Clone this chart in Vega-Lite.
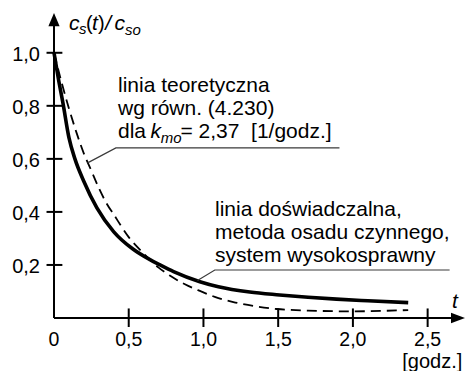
{
  "$schema": "https://vega.github.io/schema/vega-lite/v6.json",
  "autosize": {"type": "none"},
  "width": 411,
  "height": 305,
  "padding": {"left": 54, "top": 13, "right": 1, "bottom": 53},
  "background": "white",
  "config": {
    "view": {"stroke": null},
    "text": {"font": "Liberation Sans", "color": "black"}
  },
  "datasets": {
    "solid": [
      {"t": 0, "v": 1.0}, {"t": 0.03, "v": 0.9}, {"t": 0.06, "v": 0.81},
      {"t": 0.1, "v": 0.68}, {"t": 0.14, "v": 0.6}, {"t": 0.2, "v": 0.515},
      {"t": 0.287, "v": 0.415}, {"t": 0.4, "v": 0.325}, {"t": 0.528, "v": 0.26},
      {"t": 0.642, "v": 0.22}, {"t": 0.71, "v": 0.2}, {"t": 0.8, "v": 0.175},
      {"t": 0.976, "v": 0.137}, {"t": 1.1, "v": 0.118}, {"t": 1.31, "v": 0.098},
      {"t": 1.51, "v": 0.087}, {"t": 1.7, "v": 0.078}, {"t": 1.89, "v": 0.071},
      {"t": 2.1, "v": 0.065}, {"t": 2.37, "v": 0.058}
    ],
    "dashed": [
      {"t": 0, "v": 1.0}, {"t": 0.05, "v": 0.89}, {"t": 0.1, "v": 0.79},
      {"t": 0.15, "v": 0.7}, {"t": 0.2, "v": 0.62}, {"t": 0.25, "v": 0.555},
      {"t": 0.3, "v": 0.49}, {"t": 0.354, "v": 0.43}, {"t": 0.4, "v": 0.39},
      {"t": 0.5, "v": 0.305}, {"t": 0.588, "v": 0.25}, {"t": 0.7, "v": 0.19},
      {"t": 0.775, "v": 0.16}, {"t": 0.876, "v": 0.127}, {"t": 0.976, "v": 0.102},
      {"t": 1.1, "v": 0.075}, {"t": 1.2, "v": 0.06}, {"t": 1.35, "v": 0.044},
      {"t": 1.49, "v": 0.034}, {"t": 1.7, "v": 0.028}, {"t": 2.0, "v": 0.025},
      {"t": 2.2, "v": 0.027}, {"t": 2.37, "v": 0.03}
    ],
    "leaders": [
      {"id": 1, "ord": 1, "t": 0.225, "v": 0.585},
      {"id": 1, "ord": 2, "t": 0.414, "v": 0.6415},
      {"id": 1, "ord": 3, "t": 1.91, "v": 0.6415},
      {"id": 2, "ord": 1, "t": 0.96, "v": 0.141},
      {"id": 2, "ord": 2, "t": 1.076, "v": 0.181},
      {"id": 2, "ord": 3, "t": 2.647, "v": 0.181}
    ],
    "xticks": [
      {"t": 0, "label": "0"}, {"t": 0.5, "label": "0,5"}, {"t": 1.0, "label": "1,0"},
      {"t": 1.5, "label": "1,5"}, {"t": 2.0, "label": "2,0"}, {"t": 2.5, "label": "2,5"}
    ],
    "yticks": [
      {"v": 0.2, "label": "0,2"}, {"v": 0.4, "label": "0,4"}, {"v": 0.6, "label": "0,6"},
      {"v": 0.8, "label": "0,8"}, {"v": 1.0, "label": "1,0"}
    ],
    "plain": [
      {"label": "linia teoretyczna", "t": 0.428, "v": 0.853},
      {"label": "wg równ. (4.230)", "t": 0.428, "v": 0.766},
      {"label": "dla", "t": 0.428, "v": 0.679},
      {"label": "= 2,37\u00a0 [1/godz.]", "t": 0.846, "v": 0.679},
      {"label": "linia doświadczalna,", "t": 1.077, "v": 0.385},
      {"label": "metoda osadu czynnego,", "t": 1.077, "v": 0.298},
      {"label": "system wysokosprawny", "t": 1.077, "v": 0.211}
    ],
    "unit": [
      {"label": "[godz.]", "t": 2.33, "v": -0.187}
    ],
    "title": [
      {"label": "(", "t": 0.214, "v": 1.087},
      {"label": ")", "t": 0.294, "v": 1.087}
    ],
    "italic": [
      {"label": "k", "t": 0.645, "v": 0.679},
      {"label": "c", "t": 0.1, "v": 1.087},
      {"label": "t", "t": 0.254, "v": 1.087},
      {"label": "/", "t": 0.343, "v": 1.087},
      {"label": "c", "t": 0.405, "v": 1.087},
      {"label": "t", "t": 2.663, "v": 0.038}
    ],
    "subscripts": [
      {"label": "mo", "t": 0.715, "v": 0.66},
      {"label": "s", "t": 0.167, "v": 1.072},
      {"label": "so", "t": 0.475, "v": 1.068}
    ]
  },
  "layer": [
    {
      "data": {"name": "solid"},
      "mark": {"type": "line", "color": "black", "strokeWidth": 3.6, "interpolate": "monotone"},
      "encoding": {
        "x": {
          "field": "t", "type": "quantitative",
          "scale": {"domain": [0, 2.75], "nice": false, "zero": false},
          "axis": null
        },
        "y": {
          "field": "v", "type": "quantitative",
          "scale": {"domain": [0, 1.15], "nice": false, "zero": false},
          "axis": null
        }
      }
    },
    {
      "data": {"name": "dashed"},
      "mark": {"type": "line", "color": "black", "strokeWidth": 1.8, "strokeDash": [10, 6], "interpolate": "monotone"},
      "encoding": {
        "x": {"field": "t", "type": "quantitative", "axis": null},
        "y": {"field": "v", "type": "quantitative", "axis": null}
      }
    },
    {
      "data": {"name": "leaders"},
      "mark": {"type": "line", "color": "#3a3a3a", "strokeWidth": 1.2},
      "encoding": {
        "x": {"field": "t", "type": "quantitative", "axis": null},
        "y": {"field": "v", "type": "quantitative", "axis": null},
        "detail": {"field": "id", "type": "nominal"},
        "order": {"field": "ord", "type": "quantitative"}
      }
    },
    {
      "data": {"values": [{}]},
      "mark": {"type": "rule", "color": "black", "strokeWidth": 2},
      "encoding": {
        "x": {"datum": 0, "type": "quantitative", "axis": null},
        "x2": {"datum": 2.71},
        "y": {"datum": 0, "type": "quantitative", "axis": null}
      }
    },
    {
      "data": {"values": [{}]},
      "mark": {"type": "rule", "color": "black", "strokeWidth": 2},
      "encoding": {
        "x": {"datum": 0, "type": "quantitative", "axis": null},
        "y": {"datum": 0, "type": "quantitative", "axis": null},
        "y2": {"datum": 1.11}
      }
    },
    {
      "data": {"name": "xticks"},
      "transform": [{"filter": "datum.t > 0"}],
      "mark": {"type": "rule", "color": "black", "strokeWidth": 2},
      "encoding": {
        "x": {"field": "t", "type": "quantitative", "axis": null},
        "y": {"datum": -0.034, "type": "quantitative", "axis": null},
        "y2": {"datum": 0.036}
      }
    },
    {
      "data": {"name": "yticks"},
      "mark": {"type": "rule", "color": "black", "strokeWidth": 2},
      "encoding": {
        "y": {"field": "v", "type": "quantitative", "axis": null},
        "x": {"datum": -0.05, "type": "quantitative", "axis": null},
        "x2": {"datum": 0.056}
      }
    },
    {
      "data": {"name": "xticks"},
      "mark": {"type": "text", "align": "center", "baseline": "top", "fontSize": 19.5, "dy": 13},
      "encoding": {
        "x": {"field": "t", "type": "quantitative", "axis": null},
        "y": {"datum": 0, "type": "quantitative", "axis": null},
        "text": {"field": "label"}
      }
    },
    {
      "data": {"name": "yticks"},
      "mark": {"type": "text", "align": "right", "baseline": "middle", "fontSize": 20, "dx": -14, "dy": 2},
      "encoding": {
        "y": {"field": "v", "type": "quantitative", "axis": null},
        "x": {"datum": 0, "type": "quantitative", "axis": null},
        "text": {"field": "label"}
      }
    },
    {
      "data": {"values": [{}]},
      "mark": {"type": "point", "filled": true, "color": "black", "opacity": 1, "size": 196, "strokeWidth": 0,
               "shape": "M0,0L-2,-0.75L-2,0.75Z"},
      "encoding": {
        "x": {"datum": 2.75, "type": "quantitative", "axis": null},
        "y": {"datum": 0, "type": "quantitative", "axis": null}
      }
    },
    {
      "data": {"values": [{}]},
      "mark": {"type": "point", "filled": true, "color": "black", "opacity": 1, "size": 196, "strokeWidth": 0,
               "shape": "M0,0L0.8,1.9L-0.8,1.9Z"},
      "encoding": {
        "x": {"datum": 0, "type": "quantitative", "axis": null},
        "y": {"datum": 1.15, "type": "quantitative", "axis": null}
      }
    },
    {
      "data": {"name": "plain"},
      "mark": {"type": "text", "align": "left", "baseline": "alphabetic", "fontSize": 21},
      "encoding": {
        "x": {"field": "t", "type": "quantitative", "axis": null},
        "y": {"field": "v", "type": "quantitative", "axis": null},
        "text": {"field": "label"}
      }
    },
    {
      "data": {"name": "unit"},
      "mark": {"type": "text", "align": "left", "baseline": "alphabetic", "fontSize": 20},
      "encoding": {
        "x": {"field": "t", "type": "quantitative", "axis": null},
        "y": {"field": "v", "type": "quantitative", "axis": null},
        "text": {"field": "label"}
      }
    },
    {
      "data": {"name": "title"},
      "mark": {"type": "text", "align": "left", "baseline": "alphabetic", "fontSize": 20},
      "encoding": {
        "x": {"field": "t", "type": "quantitative", "axis": null},
        "y": {"field": "v", "type": "quantitative", "axis": null},
        "text": {"field": "label"}
      }
    },
    {
      "data": {"name": "italic"},
      "mark": {"type": "text", "align": "left", "baseline": "alphabetic", "fontSize": 21, "fontStyle": "italic"},
      "encoding": {
        "x": {"field": "t", "type": "quantitative", "axis": null},
        "y": {"field": "v", "type": "quantitative", "axis": null},
        "text": {"field": "label"}
      }
    },
    {
      "data": {"name": "subscripts"},
      "mark": {"type": "text", "align": "left", "baseline": "alphabetic", "fontSize": 15, "fontStyle": "italic"},
      "encoding": {
        "x": {"field": "t", "type": "quantitative", "axis": null},
        "y": {"field": "v", "type": "quantitative", "axis": null},
        "text": {"field": "label"}
      }
    }
  ]
}
